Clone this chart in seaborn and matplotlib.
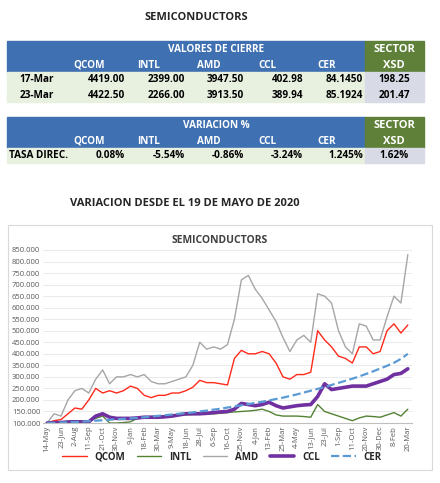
import numpy as np
import pandas as pd
import matplotlib
matplotlib.use("Agg")
import matplotlib.pyplot as plt
import seaborn as sns
from matplotlib.patches import Rectangle

sns.set_style("white")
plt.rcParams['font.family'] = ['Open Sans', 'DejaVu Sans']

# ---------- data ----------
stocks = ["QCOM", "INTL", "AMD", "CCL", "CER"]
dates_rows = ["17-Mar", "23-Mar"]
close_17 = ["4419.00", "2399.00", "3947.50", "402.98", "84.1450"]
close_23 = ["4422.50", "2266.00", "3913.50", "389.94", "85.1924"]
sector_close = ["198.25", "201.47"]
variation = ["0.08%", "-5.54%", "-0.86%", "-3.24%", "1.245%"]
sector_var = "1.62%"

tick_labels = ["14-May", "23-Jun", "2-Aug", "11-Sep", "21-Oct", "30-Nov", "9-Jan", "18-Feb",
               "30-Mar", "9-May", "18-Jun", "28-Jul", "6-Sep", "16-Oct", "25-Nov", "4-Jan",
               "13-Feb", "25-Mar", "4-May", "13-Jun", "23-Jul", "1-Sep", "11-Oct", "20-Nov",
               "30-Dec", "8-Feb", "20-Mar"]
# values at each tick and half-way between ticks (53 points)
amd = [100, 140, 130, 200, 240, 250, 230, 290, 330, 270, 300, 300, 310, 300, 310, 280, 270, 270,
       280, 290, 300, 350, 450, 420, 430, 420, 440, 550, 720, 740, 680, 640, 590, 540, 470, 410,
       460, 480, 450, 660, 650, 620, 500, 430, 400, 530, 520, 460, 460, 560, 650, 620, 830]
qcom = [100, 110, 115, 140, 165, 160, 200, 250, 230, 240, 230, 240, 260, 250, 220, 210, 220, 220,
        230, 230, 240, 255, 285, 275, 275, 270, 265, 380, 415, 400, 400, 410, 400, 360, 300, 290,
        310, 310, 320, 500, 460, 430, 390, 380, 360, 430, 430, 400, 410, 500, 530, 490, 525]
intl = [100, 102, 105, 108, 110, 110, 110, 120, 130, 100, 100, 102, 105, 120, 125, 128, 130, 131,
        132, 134, 135, 137, 138, 139, 140, 142, 145, 148, 150, 152, 155, 160, 150, 135, 130, 130,
        130, 128, 125, 180, 150, 140, 130, 120, 110, 122, 130, 128, 125, 135, 145, 130, 160]
ccl = [100, 101, 102, 104, 105, 105, 105, 130, 140, 125, 120, 120, 120, 122, 125, 125, 125, 127,
       130, 135, 140, 140, 140, 142, 145, 148, 150, 160, 185, 180, 175, 180, 190, 175, 165, 170,
       175, 178, 180, 215, 270, 245, 250, 255, 260, 260, 260, 270, 280, 290, 310, 315, 335]
cer = [100, 101, 102, 103, 104, 106, 108, 110, 112, 114, 116, 118, 120, 122, 125, 128, 131, 134,
       137, 140, 143, 146, 150, 154, 158, 162, 167, 172, 177, 182, 187, 192, 198, 204, 210, 217,
       224, 232, 240, 248, 256, 265, 274, 283, 292, 302, 313, 324, 336, 348, 361, 378, 400]

W, H = 440, 483
fig = plt.figure(figsize=(W / 100, H / 100), dpi=100)

def fx(x): return x / W
def fy(y): return 1 - y / H

BLUE = "#3F70B1"
GREEN = "#5E8038"
LGREEN = "#E8F0E0"
GRAY = "#D8DBE5"

def rect(x0, y0, x1, y1, color):
    fig.patches.append(Rectangle((fx(x0), fy(y1)), fx(x1 - x0), (y1 - y0) / H,
                                 transform=fig.transFigure, color=color, zorder=-2))

def txt(x, y, s, ha="center", color="black", size=7.2):
    fig.text(fx(x), fy(y), s, ha=ha, va="center", color=color, fontsize=size, fontweight="bold")

fig.text(fx(196), fy(18), "SEMICONDUCTORS", ha="center", va="center", fontsize=8, fontweight="bold")

cols = [7, 67, 127, 187, 246, 305, 365, 424]
centers = [(cols[i] + cols[i + 1]) / 2 for i in range(len(cols) - 1)]

# Table 1
rect(7, 41, 365, 72, BLUE)
rect(365, 41, 424, 72, GREEN)
rect(7, 72, 365, 102, LGREEN)
rect(365, 72, 424, 102, GRAY)
txt(216, 49, "VALORES DE CIERRE", color="white")
txt(394, 49, "SECTOR", color="white", size=8)
txt(394, 65, "XSD", color="white", size=8)
for i, s in enumerate(stocks):
    txt(centers[i + 1] - 8, 65, s, color="white")
for r, (lab, vals, sv) in enumerate([(dates_rows[0], close_17, sector_close[0]),
                                     (dates_rows[1], close_23, sector_close[1])]):
    y = 80 + 15 * r
    txt(37, y, lab)
    for i, v in enumerate(vals):
        txt(cols[i + 2] - 2, y, v, ha="right")
    txt(394, y, sv)

# Table 2
rect(7, 117, 365, 148, BLUE)
rect(365, 117, 424, 148, GREEN)
rect(7, 148, 365, 163, LGREEN)
rect(365, 148, 424, 163, GRAY)
txt(216, 125, "VARIACION %", color="white")
txt(394, 125, "SECTOR", color="white", size=8)
txt(394, 141, "XSD", color="white", size=8)
for i, s in enumerate(stocks):
    txt(centers[i + 1] - 8, 141, s, color="white")
txt(9, 156, "TASA DIREC.", ha="left")
for i, v in enumerate(variation):
    txt(cols[i + 2] - 2, 156, v, ha="right")
txt(394, 156, sector_var)

fig.text(fx(185), fy(203), "VARIACION DESDE EL 19 DE MAYO DE 2020", ha="center", va="center",
         fontsize=8, fontweight="bold")

# chart frame
fig.patches.append(Rectangle((fx(8), fy(470)), fx(424), 245 / H, transform=fig.transFigure,
                             facecolor="white", edgecolor="#D9D9D9", lw=0.8, zorder=-1))
fig.text(fx(220), fy(240), "SEMICONDUCTORS", ha="center", va="center", fontsize=7.5,
         fontweight="bold", color="#404040")

ax = fig.add_axes([fx(43), fy(423), fx(369), 173 / H])
ax.set_zorder(3)
ax.patch.set_alpha(0)
x = np.arange(len(amd)) / 2.0
df = pd.DataFrame({"x": np.tile(x, 5),
                   "v": qcom + intl + amd + ccl + cer,
                   "s": np.repeat(["QCOM", "INTL", "AMD", "CCL", "CER"], len(x))})
pal = {"QCOM": "#FF2A1A", "INTL": "#548235", "AMD": "#A6A6A6", "CCL": "#7030A0", "CER": "#5B9BD5"}
sizes = {"QCOM": 1.0, "INTL": 1.0, "AMD": 1.0, "CCL": 2.6, "CER": 1.6}
for s in ["QCOM", "INTL", "AMD", "CCL", "CER"]:
    sns.lineplot(data=df[df.s == s], x="x", y="v", ax=ax, color=pal[s], lw=sizes[s],
                 ls="--" if s == "CER" else "-", label=s, legend=False)
ax.set_ylim(100, 850)
ax.set_xlim(-0.3, 26.3)
ax.set_yticks(range(100, 851, 50))
ax.set_yticklabels([f"{v}.000" for v in range(100, 851, 50)], fontsize=5.5, color="#595959")
ax.set_xticks(range(len(tick_labels)))
ax.set_xticklabels(tick_labels, rotation=90, fontsize=5.5, color="#595959")
ax.grid(axis="y", color="#E6E6E6", lw=0.6)
ax.set_axisbelow(True)
ax.set_xlabel("")
ax.set_ylabel("")
for sp in ["top", "right", "left"]:
    ax.spines[sp].set_visible(False)
ax.spines["bottom"].set_color("#BFBFBF")
ax.tick_params(length=0, pad=2)
handles, labels = ax.get_legend_handles_labels()
fig.legend(handles, labels, loc="center", bbox_to_anchor=(fx(222), fy(457)), ncol=5,
           frameon=False, handlelength=2.5, columnspacing=1.2,
           prop={"weight": "bold", "size": 7})

fig.savefig("out.png", dpi=100)
